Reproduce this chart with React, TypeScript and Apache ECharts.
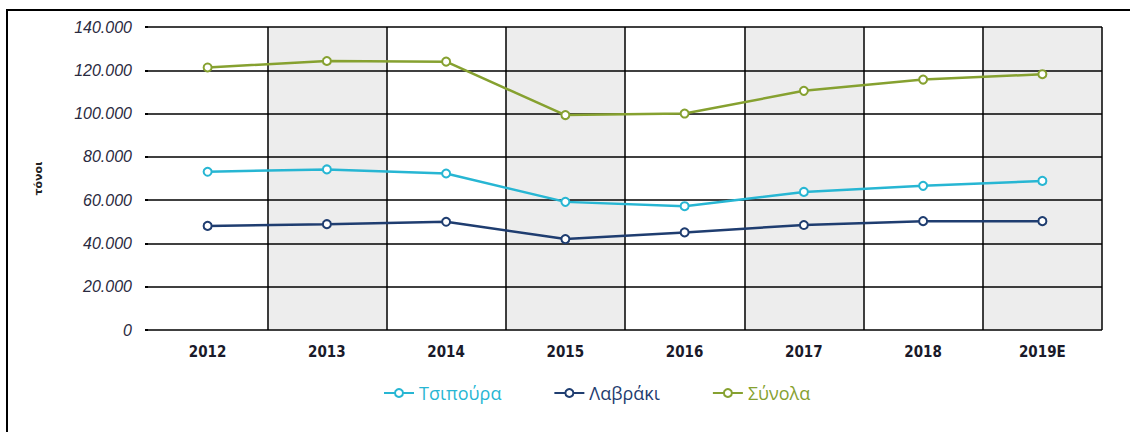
import React, { useEffect, useRef } from "react";
import * as echarts from "echarts";

const years = ["2012", "2013", "2014", "2015", "2016", "2017", "2018", "2019E"];
const tsipoura = [73100, 74200, 72300, 59200, 57200, 63800, 66600, 68900];
const lavraki = [48100, 48900, 50000, 42000, 45100, 48500, 50300, 50300];
const synola = [121300, 124300, 124000, 99300, 100000, 110500, 115700, 118200];
const seriesNames = ["Τσιπούρα", "Λαβράκι", "Σύνολα"];
const yAxisName = "τόνοι";

const colors = ["#27b6d3", "#1f3d70", "#86a130"];

const fmt = (v: number) => String(v).replace(/\B(?=(\d{3})+(?!\d))/g, ".");

export default function App() {
  const ref = useRef<HTMLDivElement>(null);
  useEffect(() => {
    if (!ref.current) return;
    const chart = echarts.init(ref.current, undefined, { renderer: "svg" });
    const data = [tsipoura, lavraki, synola];
    chart.setOption({
      animation: false,
      backgroundColor: "#ffffff",
      graphic: [
        { type: "line", shape: { x1: 7, y1: 9, x2: 7, y2: 440 }, style: { stroke: "#000", lineWidth: 2 } },
        { type: "line", shape: { x1: 6, y1: 10, x2: 1140, y2: 10 }, style: { stroke: "#000", lineWidth: 2 } },
      ],
      grid: { left: 148, right: 28, top: 27, bottom: 102 },
      legend: {
        left: 378,
        top: 379,
        itemWidth: 30,
        itemHeight: 10,
        itemGap: 52,
        data: seriesNames.map((n, i) => ({
          name: n,
          textStyle: { color: colors[i], fontSize: 18, fontFamily: "Open Sans" },
        })),
      },
      xAxis: {
        type: "category",
        data: years,
        boundaryGap: true,
        z: 0,
        axisLine: { show: false },
        axisTick: { show: false },
        axisLabel: {
          margin: 14,
          fontSize: 15,
          fontWeight: "bold",
          color: "#1a1a2a",
          fontFamily: "DejaVu Sans Condensed",
        },
        splitLine: { show: true, showMinLine: false, lineStyle: { color: "#000", width: 1.5 } },
        splitArea: { show: true, areaStyle: { color: ["rgba(255,255,255,0)", "#ededed"] } },
      },
      yAxis: {
        type: "value",
        min: 0,
        max: 140000,
        interval: 20000,
        z: 1,
        name: yAxisName,
        nameLocation: "middle",
        nameGap: 104,
        nameTextStyle: { fontSize: 11, fontWeight: "bold", color: "#222", fontFamily: "DejaVu Sans" },
        axisLine: { show: false },
        axisTick: { show: true, length: 3, lineStyle: { color: "#000", width: 2 } },
        axisLabel: {
          margin: 16,
          fontSize: 16,
          fontStyle: "italic",
          color: "#2a2a40",
          fontFamily: "Liberation Sans",
          formatter: (v: number) => fmt(v),
        },
        splitLine: { show: true, lineStyle: { color: "#000", width: 1.5 } },
      },
      series: seriesNames.map((n, i) => ({
        name: n,
        type: "line",
        data: data[i],
        color: colors[i],
        symbol: "emptyCircle",
        symbolSize: 8,
        lineStyle: { width: 2.5, color: colors[i] },
        itemStyle: { color: colors[i], borderWidth: 1.8 },
        z: 3 + i,
      })),
    });
    return () => chart.dispose();
  }, []);
  return <div ref={ref} style={{ position: "absolute", left: 0, top: 0, width: 1130, height: 432 }} />;
}
